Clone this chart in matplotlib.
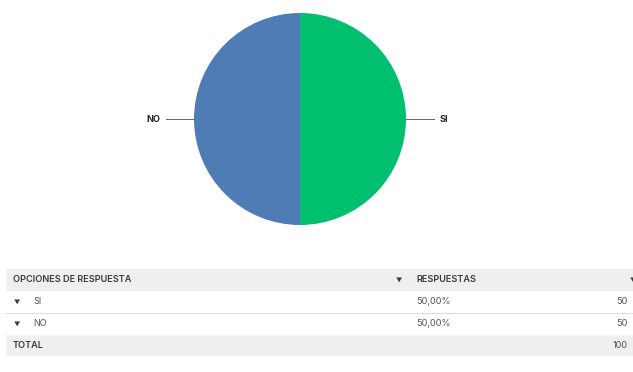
import numpy as np
from matplotlib import pyplot as plt
import matplotlib

matplotlib.rcParams['font.family'] = ['Inter', 'DejaVu Sans']

# data
opciones = ['SI', 'NO']
porcentajes = [50.0, 50.0]
respuestas = [50, 50]
total = 100
colores = ['#00bf6f', '#507cb5']
encabezados = ['OPCIONES DE RESPUESTA', 'RESPUESTAS']

W, H = 633, 372
fig = plt.figure(figsize=(W/100, H/100), dpi=100)

#%% pie
cx, cy, r = 300, 119, 106
axp = fig.add_axes([(cx-r)/W, (H-cy-r)/H, 2*r/W, 2*r/H])
wedges, _ = axp.pie(porcentajes, colors=colores, startangle=90, counterclock=False,
                    wedgeprops=dict(linewidth=0))
axp.set_aspect('auto')
axp.set_xlim(-1, 1)
axp.set_ylim(-1, 1)
for w, lab in zip(wedges, opciones):
    ang = np.deg2rad((w.theta1 + w.theta2) / 2)
    x, y = np.round(np.cos(ang), 6), np.round(np.sin(ang), 6)
    axp.plot([x, x*1.26], [y, y*1.26], color='#666666', lw=0.7, clip_on=False)
    ha = 'left' if x > 0 else 'right'
    axp.text(x*1.26 + np.sign(x)*0.06, y*1.26, lab, ha=ha, va='center',
             fontsize=6.5, fontweight='bold', color='#222222', clip_on=False)

#%% table
ax = fig.add_axes([0, 0, 1, 1])
ax.set_xlim(0, W)
ax.set_ylim(H, 0)
ax.axis('off')

x0, x1 = 6, 633
rows_y = [269, 291, 313, 335, 356]
gris = '#efefef'
txt = '#3a3a3a'
txt2 = '#555555'
fs = 6.6

ax.add_patch(plt.Rectangle((x0, rows_y[0]), x1-x0, rows_y[1]-rows_y[0], color=gris, lw=0))
ax.add_patch(plt.Rectangle((x0, rows_y[3]), x1-x0, rows_y[4]-rows_y[3], color=gris, lw=0))
ax.plot([x0, x1], [rows_y[2], rows_y[2]], color='#dddddd', lw=0.8)

ym = (rows_y[0]+rows_y[1])/2
ax.text(13, ym, encabezados[0], fontsize=fs, fontweight='semibold', color=txt, va='center')
ax.text(399, ym, '\u25bc', fontsize=4.5, color=txt, va='center', ha='center')
ax.text(416, ym, encabezados[1], fontsize=fs, fontweight='semibold', color=txt, va='center')
ax.text(633, ym, '\u25bc', fontsize=4.5, color=txt, va='center', ha='center')

for i, (op, p, n) in enumerate(zip(opciones, porcentajes, respuestas)):
    ym = (rows_y[i+1]+rows_y[i+2])/2
    ax.text(17, ym, '\u25bc', fontsize=4.5, color=txt, va='center', ha='center')
    ax.text(33, ym, op, fontsize=fs, color=txt2, va='center')
    ax.text(416, ym, ('%.2f%%' % p).replace('.', ','), fontsize=fs, color=txt2, va='center')
    ax.text(628, ym, str(n), fontsize=fs, color=txt2, va='center', ha='right')

ym = (rows_y[3]+rows_y[4])/2
ax.text(13, ym, 'TOTAL', fontsize=fs, fontweight='semibold', color=txt, va='center')
ax.text(628, ym, str(total), fontsize=fs, color=txt2, va='center', ha='right')

fig.savefig('out.png', dpi=100)
